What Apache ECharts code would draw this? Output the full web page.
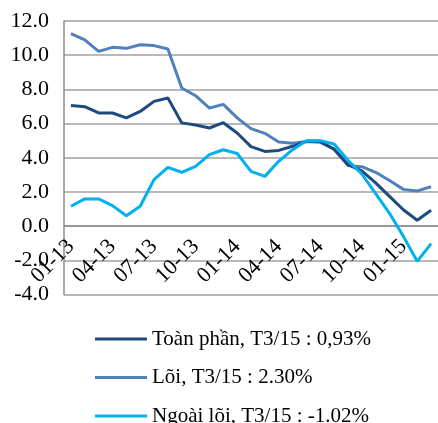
<!DOCTYPE html>
<html>
<head>
<meta charset="utf-8">
<script src="https://cdn.jsdelivr.net/npm/echarts@6/dist/echarts.min.js"></script>
<style>
  html, body { margin: 0; padding: 0; background: #fff; }
  #chart { width: 438px; height: 423px; }
</style>
</head>
<body>
<div id="chart"></div>
<script>
// thang (mm-yy)
const months = [
  '01-13', '02-13', '03-13', '04-13', '05-13', '06-13', '07-13', '08-13', '09-13',
  '10-13', '11-13', '12-13', '01-14', '02-14', '03-14', '04-14', '05-14', '06-14',
  '07-14', '08-14', '09-14', '10-14', '11-14', '12-14', '01-15', '02-15', '03-15'
]
const toanPhan = [7.05, 6.99, 6.62, 6.62, 6.33, 6.71, 7.3, 7.5, 6.04, 5.92, 5.74, 6.05, 5.45, 4.65, 4.37, 4.43, 4.67, 4.96, 4.96, 4.5, 3.6, 3.23, 2.53, 1.74, 0.96, 0.34, 0.93]
const loi = [11.26, 10.9, 10.22, 10.46, 10.4, 10.61, 10.56, 10.36, 8.08, 7.63, 6.91, 7.12, 6.33, 5.7, 5.43, 4.92, 4.85, 4.95, 4.9, 4.5, 3.55, 3.48, 3.15, 2.67, 2.15, 2.06, 2.3]
const ngoaiLoi = [1.16, 1.59, 1.59, 1.2, 0.61, 1.16, 2.72, 3.44, 3.15, 3.5, 4.18, 4.47, 4.25, 3.2, 2.91, 3.79, 4.47, 5.0, 5.0, 4.8, 3.85, 3.05, 1.9, 0.75, -0.6, -2.06, -1.02]
const seriesNames = ['Toàn phần, T3/15 : 0,93%', 'Lõi, T3/15 : 2.30%', 'Ngoài lõi, T3/15 : -1.02%']
const colors = ['#1f4a7e', '#4f81bd', '#00b0f0']

const font = 'Liberation Serif'
const yMin = -4
const yMax = 12
const gridTop = 21
const gridBottom = 128.5
const chart = echarts.init(document.getElementById('chart'))

// move the category axis up to the 0 line
const plotH = 423 - gridTop - gridBottom
const zeroOffset = -plotH * (0 - yMin) / (yMax - yMin)

chart.setOption({
  animation: false,
  grid: { left: 64, right: 0, top: gridTop, bottom: gridBottom },
  legend: {
    orient: 'vertical',
    left: 95,
    top: 328.5,
    height: 200,
    padding: 0,
    icon: 'rect',
    itemWidth: 52,
    itemHeight: 3,
    itemGap: 17.5,
    textStyle: { fontFamily: font, fontSize: 21, color: '#000', lineHeight: 21 },
    data: seriesNames,
  },
  xAxis: [
    {
      type: 'category',
      data: months,
      position: 'bottom',
      offset: zeroOffset,
      axisLine: { onZero: false, lineStyle: { color: '#8c8c8c', width: 1.5 } },
      axisTick: { interval: 2, length: 6, lineStyle: { color: '#8c8c8c', width: 1.5 } },
      axisLabel: {
        interval: 2,
        rotate: 45,
        margin: 17,
        fontFamily: font,
        fontSize: 22,
        color: '#000',
      },
      splitLine: { show: false },
    },
    {
      // ticks crossing the axis (upper half)
      type: 'category',
      data: months,
      position: 'bottom',
      offset: zeroOffset,
      axisLine: { show: false, onZero: false },
      axisTick: { inside: true, interval: 2, length: 6, lineStyle: { color: '#8c8c8c', width: 1.5 } },
      axisLabel: { show: false },
      splitLine: { show: false },
    },
  ],
  yAxis: {
    type: 'value',
    min: yMin,
    max: yMax,
    interval: 2,
    axisLine: { show: true, onZero: false, lineStyle: { color: '#8c8c8c', width: 1.5 } },
    axisTick: { show: false },
    axisLabel: {
      margin: 15,
      fontFamily: font,
      fontSize: 22,
      color: '#000',
      formatter: (v) => v.toFixed(1),
    },
    splitLine: { lineStyle: { color: '#a0a0a0', width: 1.5 } },
  },
  series: [
    { name: seriesNames[0], type: 'line', data: toanPhan, symbol: 'none', lineStyle: { width: 3, color: colors[0] }, itemStyle: { color: colors[0] }, z: 3 },
    { name: seriesNames[1], type: 'line', data: loi, symbol: 'none', lineStyle: { width: 3, color: colors[1] }, itemStyle: { color: colors[1] }, z: 2 },
    { name: seriesNames[2], type: 'line', data: ngoaiLoi, symbol: 'none', lineStyle: { width: 3, color: colors[2] }, itemStyle: { color: colors[2] }, z: 4 },
  ],
})
</script>
</body>
</html>
